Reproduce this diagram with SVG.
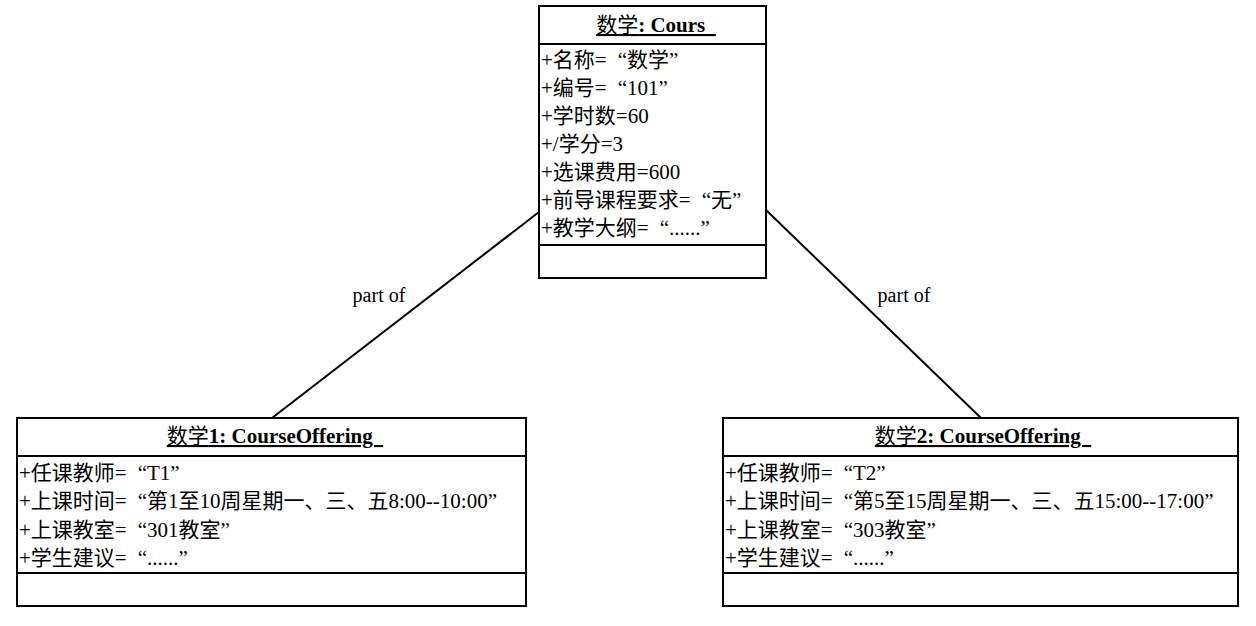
<svg xmlns="http://www.w3.org/2000/svg" width="1256" height="626" viewBox="0 0 1256 626">
<style>
.box{fill:#fff;stroke:#000;stroke-width:2}
.div{stroke:#000;stroke-width:2}
.t{font-family:"Liberation Serif",serif;font-size:21px;fill:#000}
.c{font-family:"Noto Sans CJK SC","Noto Sans CJK JP",sans-serif;font-weight:normal}
.title{font-weight:bold;text-decoration:underline;text-anchor:middle;font-size:21px}
.title .c{font-weight:normal}
.conn{stroke:#000;stroke-width:2;fill:none}
.lbl{font-family:"Liberation Serif",serif;font-size:20px;fill:#000;text-anchor:middle}
</style>
<rect width="1256" height="626" fill="#fff"/>
<g id="connectors">
<line class="conn" x1="539" y1="212" x2="272" y2="418"/>
<line class="conn" x1="766" y1="210" x2="981" y2="418"/>
<text class="lbl" x="379" y="302">part of</text>
<text class="lbl" x="904" y="302">part of</text>
</g>
<g id="course">
<rect class="box" x="539" y="6" width="227" height="272"/>
<line class="div" x1="539" y1="44" x2="766" y2="44"/>
<line class="div" x1="539" y1="245" x2="766" y2="245"/>
<text class="t title" x="656" y="32"><tspan class="c">数学</tspan>: Cours&#160;&#160;</text>
<text class="t" x="541" y="67">+<tspan class="c">名称</tspan>=<tspan dx="11">“</tspan><tspan class="c">数学</tspan>”</text>
<text class="t" x="541" y="95">+<tspan class="c">编号</tspan>=<tspan dx="11">“</tspan>101”</text>
<text class="t" x="541" y="123">+<tspan class="c">学时数</tspan>=60</text>
<text class="t" x="541" y="151">+/<tspan class="c">学分</tspan>=3</text>
<text class="t" x="541" y="179">+<tspan class="c">选课费用</tspan>=600</text>
<text class="t" x="541" y="207">+<tspan class="c">前导课程要求</tspan>=<tspan dx="11">“</tspan><tspan class="c">无</tspan>”</text>
<text class="t" x="541" y="235">+<tspan class="c">教学大纲</tspan>=<tspan dx="11">“</tspan>......”</text>
</g>
<g id="offering1">
<rect class="box" x="17" y="418" width="509" height="188"/>
<line class="div" x1="17" y1="456" x2="526" y2="456"/>
<line class="div" x1="17" y1="573" x2="526" y2="573"/>
<text class="t title" x="275" y="443"><tspan class="c">数学</tspan>1: CourseOffering&#160;&#160;</text>
<text class="t" x="19" y="480">+<tspan class="c">任课教师</tspan>=<tspan dx="11">“</tspan>T1”</text>
<text class="t" x="19" y="508">+<tspan class="c">上课时间</tspan>=<tspan dx="11">“</tspan><tspan class="c">第</tspan>1<tspan class="c">至</tspan>10<tspan class="c">周星期一、三、五</tspan>8:00--10:00”</text>
<text class="t" x="19" y="537">+<tspan class="c">上课教室</tspan>=<tspan dx="11">“</tspan>301<tspan class="c">教室</tspan>”</text>
<text class="t" x="19" y="565">+<tspan class="c">学生建议</tspan>=<tspan dx="11">“</tspan>......”</text>
</g>
<g id="offering2">
<rect class="box" x="723" y="418" width="515" height="188"/>
<line class="div" x1="723" y1="456" x2="1238" y2="456"/>
<line class="div" x1="723" y1="573" x2="1238" y2="573"/>
<text class="t title" x="983" y="443"><tspan class="c">数学</tspan>2: CourseOffering&#160;&#160;</text>
<text class="t" x="725" y="480">+<tspan class="c">任课教师</tspan>=<tspan dx="11">“</tspan>T2”</text>
<text class="t" x="725" y="508">+<tspan class="c">上课时间</tspan>=<tspan dx="11">“</tspan><tspan class="c">第</tspan>5<tspan class="c">至</tspan>15<tspan class="c">周星期一、三、五</tspan>15:00--17:00”</text>
<text class="t" x="725" y="537">+<tspan class="c">上课教室</tspan>=<tspan dx="11">“</tspan>303<tspan class="c">教室</tspan>”</text>
<text class="t" x="725" y="565">+<tspan class="c">学生建议</tspan>=<tspan dx="11">“</tspan>......”</text>
</g>
</svg>
